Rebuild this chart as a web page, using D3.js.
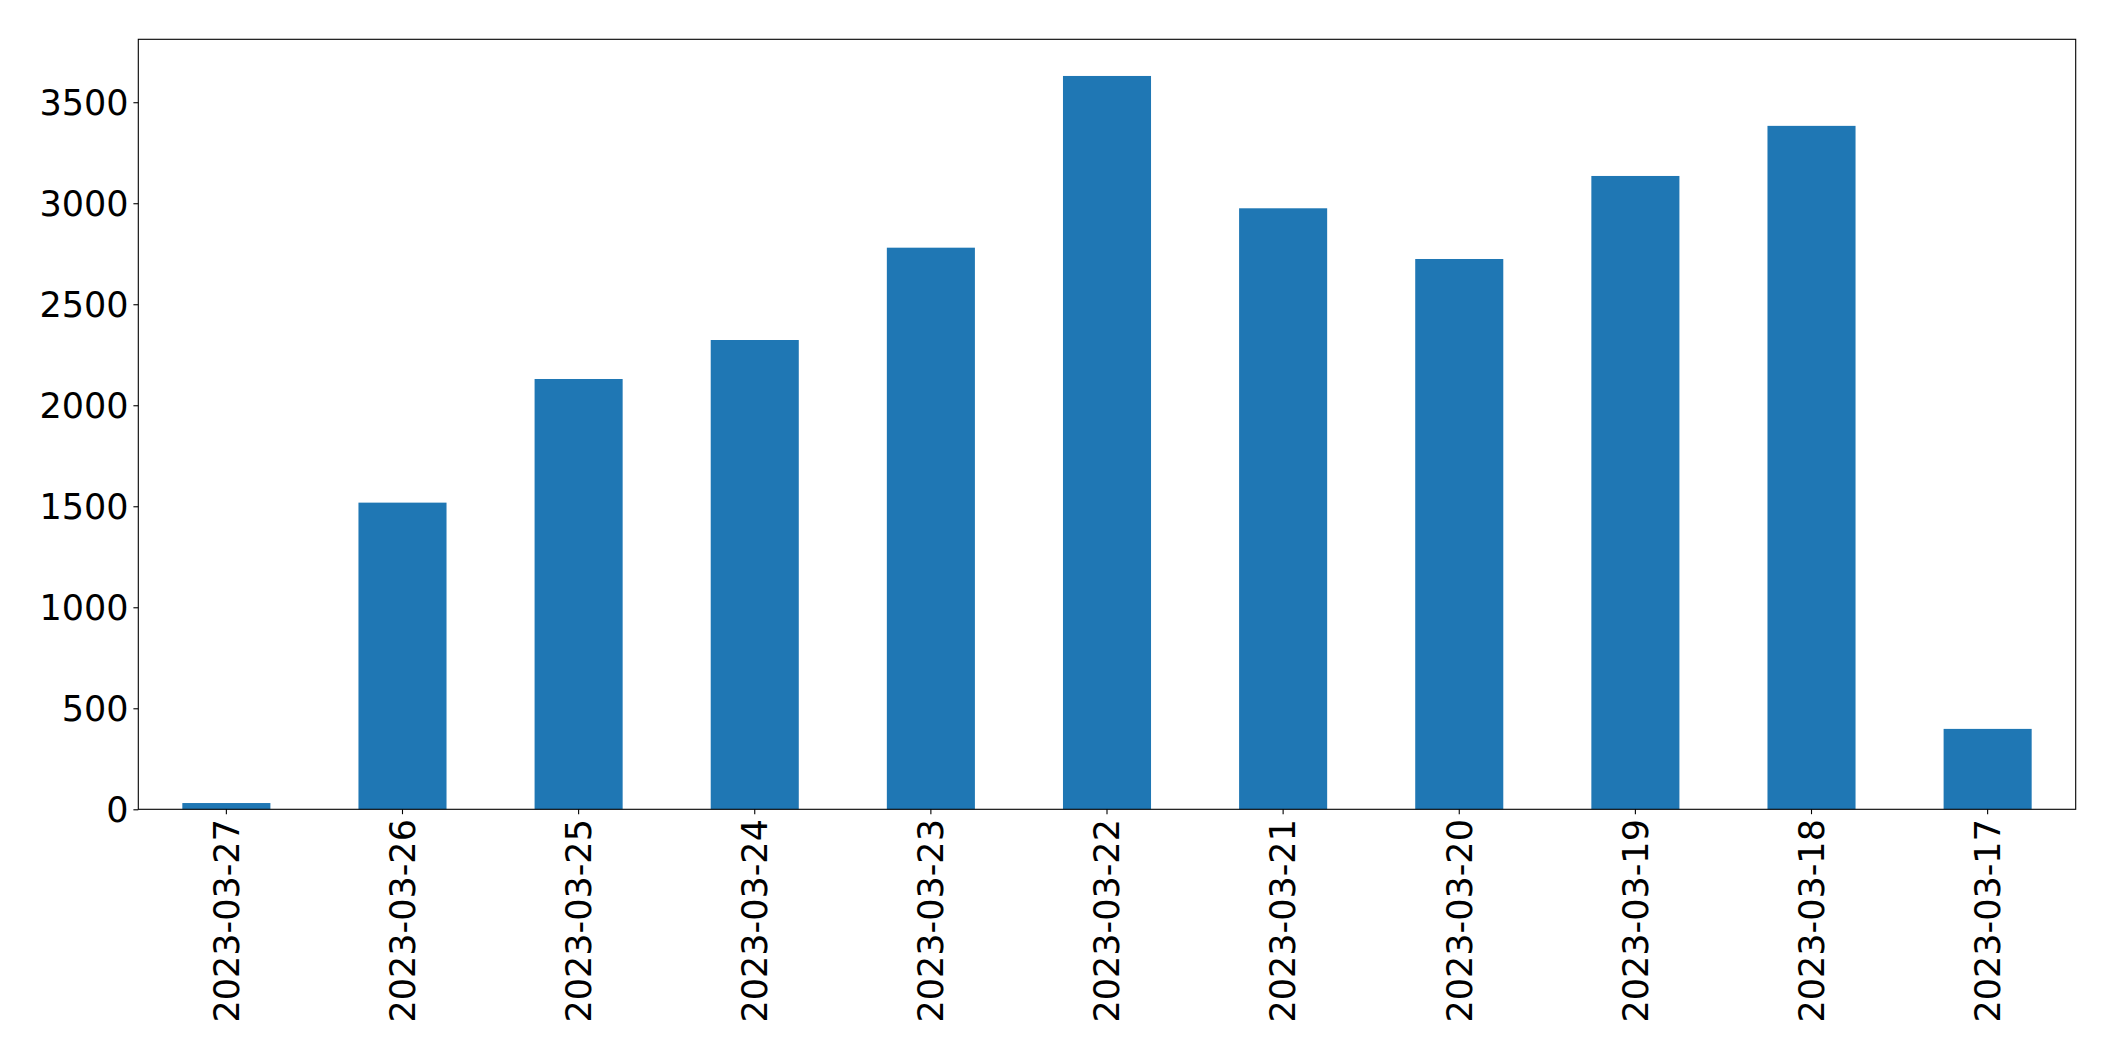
<!DOCTYPE html>
<html>
<head>
<meta charset="utf-8">
<script src="https://cdn.jsdelivr.net/npm/d3@7"></script>
<style>
  body { margin: 0; background: #fff; }
  text { font-family: "DejaVu Sans", sans-serif; fill: #000; }
</style>
</head>
<body>
<div id="chart"></div>
<script>
'use strict';

var dates = ['2023-03-27', '2023-03-26', '2023-03-25', '2023-03-24', '2023-03-23', '2023-03-22',
  '2023-03-21', '2023-03-20', '2023-03-19', '2023-03-18', '2023-03-17'];
var counts = [31, 1518, 2130, 2323, 2780, 3630, 2975, 2724, 3135, 3383, 398];
var yTicks = [0, 500, 1000, 1500, 2000, 2500, 3000, 3500];

var width = 2115;
var height = 1061;
var margin = { top: 39.3, right: 39.3, bottom: 251.7, left: 138.3 };
var innerW = width - margin.left - margin.right;
var innerH = height - margin.top - margin.bottom;
var fontSize = 35;

var svg = d3.select('#chart').append('svg')
  .attr('width', width)
  .attr('height', height);

var g = svg.append('g')
  .attr('transform', 'translate(' + margin.left + ',' + margin.top + ')');

var x = d3.scaleBand()
  .domain(dates)
  .range([0, innerW])
  .paddingInner(0.5)
  .paddingOuter(0.25);

var yMax = d3.max(counts) * 1.05;
var y = d3.scaleLinear()
  .domain([0, yMax])
  .range([innerH, 0]);

g.selectAll('rect.bar')
  .data(counts)
  .enter()
  .append('rect')
  .attr('class', 'bar')
  .attr('x', function (d, i) { return x(dates[i]); })
  .attr('y', function (d) { return y(d); })
  .attr('width', x.bandwidth())
  .attr('height', function (d) { return innerH - y(d); })
  .attr('fill', '#1f77b4');

// y axis
var yAxis = g.append('g')
  .call(d3.axisLeft(y).tickValues(yTicks).tickFormat(d3.format('d')).tickSize(4.9).tickPadding(4.9));
yAxis.select('.domain').remove();
yAxis.selectAll('line').attr('stroke', '#000').attr('stroke-width', 1.1);
yAxis.selectAll('text')
  .style('font-size', fontSize + 'px')
  .attr('dy', '0.35em');

// x axis
var xAxis = g.append('g')
  .attr('transform', 'translate(0,' + innerH + ')')
  .call(d3.axisBottom(x).tickSize(4.9).tickPadding(4.9));
xAxis.select('.domain').remove();
xAxis.selectAll('line').attr('stroke', '#000').attr('stroke-width', 1.1);
xAxis.selectAll('text')
  .style('font-size', fontSize + 'px')
  .attr('text-anchor', 'end')
  .attr('x', 0)
  .attr('y', 0)
  .attr('dy', '0.35em')
  .attr('transform', 'translate(0,' + (4.9 + 4.9) + ') rotate(-90)');

// frame
g.append('rect')
  .attr('x', 0)
  .attr('y', 0)
  .attr('width', innerW)
  .attr('height', innerH)
  .attr('fill', 'none')
  .attr('stroke', '#000')
  .attr('stroke-width', 1.1);
</script>
</body>
</html>
